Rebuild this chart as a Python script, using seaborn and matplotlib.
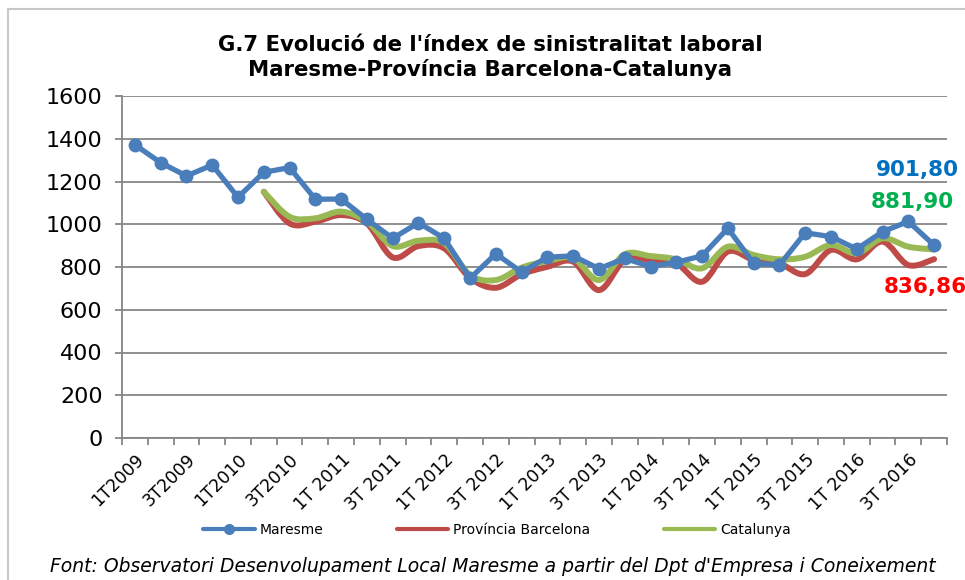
import numpy as np
import pandas as pd
import seaborn as sns
import matplotlib.pyplot as plt
from matplotlib.path import Path
from matplotlib.patches import PathPatch
from matplotlib.lines import Line2D

sns.set_theme(style="white")
plt.rcParams["font.family"] = ["DejaVu Sans"]
plt.rcParams["text.color"] = "black"
plt.rcParams["xtick.color"] = "black"
plt.rcParams["ytick.color"] = "black"

# trimestres 1T2009 .. 4T2016
quarters = [f"{q}T{y}" for y in range(2009, 2017) for q in range(1, 5)]
tick_labels = ["1T2009", "3T2009", "1T2010", "3T2010",
               "1T 2011", "3T 2011", "1T 2012", "3T 2012",
               "1T 2013", "3T 2013", "1T 2014", "3T 2014",
               "1T 2015", "3T 2015", "1T 2016", "3T 2016"]

maresme = [1372, 1288, 1226, 1277, 1126, 1243, 1265, 1117,
           1118, 1023, 934, 1007, 934, 747, 862, 776,
           846, 852, 792, 840, 802, 822, 852, 981,
           817, 809, 960, 942, 884, 965, 1013, 901.80]
# Província i Catalunya comencen a 2T2010
provincia = [np.nan] * 5 + [1152, 1004, 1012, 1043, 1004, 845, 898,
                            887, 749, 703, 766, 801, 825, 692, 833,
                            833, 817, 731, 872, 833, 817, 767, 880,
                            836, 919, 809, 836.86]
catalunya = [np.nan] * 5 + [1152, 1035, 1028, 1059, 1012, 898, 923,
                            911, 763, 739, 797, 828, 841, 739, 860,
                            851, 836, 794, 895, 856, 836, 848, 903,
                            864, 934, 895, 881.90]

df = pd.DataFrame({"pos": np.arange(len(quarters)), "trimestre": quarters,
                   "Maresme": maresme, "Província Barcelona": provincia,
                   "Catalunya": catalunya})

c_blue, c_red, c_green = "#4A7EBB", "#BE4B48", "#98B954"

fig = plt.figure(figsize=(9.65, 5.8), dpi=100)
W, H = 965, 580
ax = fig.add_axes([122 / W, 1 - 438 / H, 825 / W, 342 / H])


def smooth_path(xs, ys):
    # corba suavitzada tipus Excel (Bezier a partir dels punts)
    pts = np.column_stack([xs, ys])
    verts = [pts[0]]
    codes = [Path.MOVETO]
    n = len(pts)
    for i in range(n - 1):
        p0 = pts[max(i - 1, 0)]
        p1 = pts[i]
        p2 = pts[i + 1]
        p3 = pts[min(i + 2, n - 1)]
        verts += [p1 + (p2 - p0) / 6, p2 - (p3 - p1) / 6, p2]
        codes += [Path.CURVE4] * 3
    return Path(verts, codes)


for col, color in [("Província Barcelona", c_red), ("Catalunya", c_green)]:
    d = df.dropna(subset=[col])
    ax.add_patch(PathPatch(smooth_path(d["pos"].values, d[col].values),
                           fill=False, edgecolor=color, lw=4.3,
                           capstyle="round", joinstyle="round", zorder=3))

sns.lineplot(data=df, x="pos", y="Maresme", ax=ax, color=c_blue, lw=3.8,
             marker="o", markersize=10, markeredgewidth=0, zorder=4,
             legend=False)

ax.set_xlim(-0.5, len(quarters) - 0.5)
ax.set_ylim(0, 1600)
ax.set_yticks(range(0, 1601, 200))
ax.set_xticks(np.arange(0, len(quarters), 2))
ax.set_xticklabels(tick_labels, rotation=45, ha="right", va="top",
                   rotation_mode="anchor", fontsize=12.5)
ax.set_xticks(np.arange(-0.5, len(quarters), 1), minor=True)
ax.tick_params(axis="x", which="major", length=0, pad=9)
ax.tick_params(axis="x", which="minor", length=5, width=1.3,
               color="#868686", direction="out", bottom=True)
ax.tick_params(axis="y", length=5, width=1.3, color="#868686",
               direction="out", left=True, labelsize=16, pad=9)
ax.set_xlabel("")
ax.set_ylabel("")
ax.grid(axis="y", color="#868686", lw=1.3)
ax.set_axisbelow(True)
for s in ["top", "right"]:
    ax.spines[s].set_visible(False)
for s in ["left", "bottom"]:
    ax.spines[s].set_color("#868686")
    ax.spines[s].set_linewidth(1.3)

handles = [Line2D([], [], color=c_blue, lw=3, marker="o", markersize=7),
           Line2D([], [], color=c_red, lw=3),
           Line2D([], [], color=c_green, lw=3)]
fig.legend(handles, ["Maresme", "Província Barcelona", "Catalunya"],
           loc="center", bbox_to_anchor=(497 / W, 1 - 530 / H), ncol=3,
           frameon=False, fontsize=10, handlelength=3.7, handletextpad=0.35,
           columnspacing=5.3)

fig.text(490 / W, 1 - 45 / H, "G.7 Evolució de l'índex de sinistralitat laboral",
         ha="center", va="center", fontsize=15.3, fontweight="bold")
fig.text(490 / W, 1 - 70 / H, "Maresme-Província Barcelona-Catalunya",
         ha="center", va="center", fontsize=15.3, fontweight="bold")

fig.text(917 / W, 1 - 170 / H, "901,80", ha="center", va="center",
         fontsize=15.5, fontweight="bold", color="#0070C0")
fig.text(912 / W, 1 - 202 / H, "881,90", ha="center", va="center",
         fontsize=15.5, fontweight="bold", color="#00B050")
fig.text(925 / W, 1 - 287 / H, "836,86", ha="center", va="center",
         fontsize=15.5, fontweight="bold", color="#FF0000")

fig.text(493 / W, 1 - 567 / H,
         "Font: Observatori Desenvolupament Local Maresme a partir del Dpt d'Empresa i Coneixement",
         ha="center", va="center", fontsize=13.5, style="italic")

# vora del gràfic
fig.add_artist(Line2D([8 / W, 1], [1 - 9 / H, 1 - 9 / H], color="#C8C8C8", lw=1.5))
fig.add_artist(Line2D([8 / W, 8 / W], [0, 1 - 9 / H], color="#C8C8C8", lw=1.5))

fig.savefig("out.png", dpi=100)
